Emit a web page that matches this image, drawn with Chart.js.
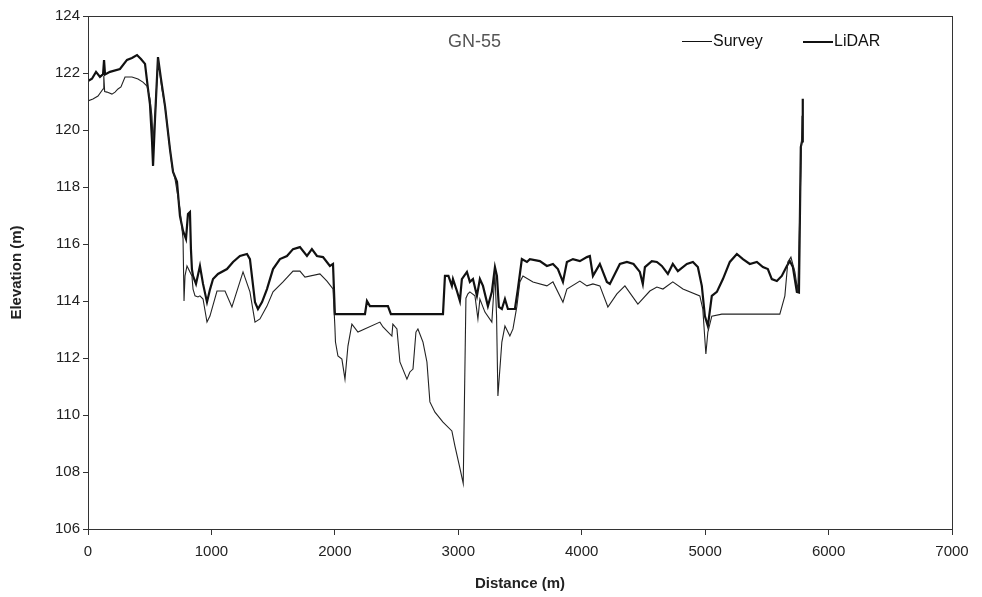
<!DOCTYPE html>
<html lang="en">

<head>
    <meta charset="UTF-8">
    <title>GN-55 Survey vs LiDAR</title>
    <script src="https://cdn.jsdelivr.net/npm/chart.js"></script>
    <style>
        body { margin: 0; background: #fff; }
        #box { position: relative; width: 982px; height: 597px; }
        #titulo { position: absolute; left: 448px; top: 31px; font: 18px "Liberation Sans", Arial, sans-serif; color: #555; }
        .leg { position: absolute; top: 32px; font: 16px "Liberation Sans", Arial, sans-serif; color: #111; }
        .leg span { display: inline-block; width: 30px; vertical-align: middle; margin-right: 1px; background: #111; }
    </style>
</head>

<body>
    <div id="box">
        <canvas id="grafico"></canvas>
        <div id="titulo">GN-55</div>
        <div class="leg" style="left:682px"><span style="height:1px"></span>Survey</div>
        <div class="leg" style="left:803px"><span style="height:2px"></span>LiDAR</div>
    </div>

<script>
    // eixos
    const xTicks = [0, 1000, 2000, 3000, 4000, 5000, 6000, 7000];
    const yTicks = [106, 108, 110, 112, 114, 116, 118, 120, 122, 124];

    // Survey (linha fina)
    const surveyDist = [0, 40, 81, 122, 128, 135, 154, 194, 219, 243, 267, 300, 356, 405, 445, 478, 502, 518, 527, 545,
        567, 599, 624, 648, 680, 705, 745, 770, 778, 786, 802, 842, 851, 867, 891, 907, 932, 964, 988, 1045,
        1110, 1166, 1256, 1312, 1353, 1393, 1450, 1499, 1580, 1661, 1717, 1758, 1879, 1936, 1985, 2000, 2005, 2025, 2057, 2082,
        2106, 2138, 2187, 2365, 2390, 2462, 2470, 2503, 2527, 2584, 2608, 2633, 2657, 2673, 2714, 2746, 2770, 2811, 2876, 2948,
        2973, 3010, 3040, 3062, 3078, 3094, 3135, 3159, 3175, 3216, 3272, 3297, 3310, 3321, 3353, 3378, 3418, 3443, 3475, 3499,
        3524, 3605, 3718, 3767, 3848, 3880, 3985, 4042, 4091, 4147, 4212, 4285, 4350, 4455, 4552, 4609, 4658, 4738, 4820, 4957,
        4981, 5006, 5022, 5054, 5135, 5605, 5646, 5670, 5695, 5727, 5751, 5775, 5785];
    const surveyElev = [121.02, 121.09, 121.19, 121.44, 121.9, 121.35, 121.33, 121.26, 121.33, 121.44, 121.51, 121.86, 121.86, 121.79, 121.68, 121.54, 121.09, 120.49, 119.6, 120.6,
        122.49, 121.44, 120.84, 119.93, 118.74, 118.28, 117.23, 116.18, 114.0, 114.88, 115.23, 114.88, 114.42, 114.18, 114.14, 114.18, 114.07, 113.26, 113.47, 114.35,
        114.35, 113.79, 115.02, 114.32, 113.26, 113.37, 113.82, 114.32, 114.67, 115.05, 115.05, 114.84, 114.95, 114.7, 114.42, 113.12, 112.56, 112.07, 111.96, 111.26,
        112.42, 113.19, 112.91, 113.26, 113.09, 112.77, 113.19, 113.02, 111.86, 111.26, 111.51, 111.61, 112.91, 113.02, 112.56, 111.86, 110.46, 110.1, 109.75, 109.44,
        108.91, 108.2, 107.6, 114.1, 114.25, 114.32, 114.18, 113.37, 114.07, 113.61, 113.26, 115.0, 113.5, 110.67, 112.56, 113.12, 112.77, 113.02, 113.82, 114.67,
        114.88, 114.67, 114.53, 114.67, 113.96, 114.42, 114.7, 114.53, 114.6, 114.53, 113.79, 114.25, 114.53, 113.89, 114.35, 114.49, 114.42, 114.67, 114.42, 114.18,
        113.72, 112.14, 112.91, 113.47, 113.54, 113.54, 114.18, 115.37, 115.54, 115.02, 114.32, 118.5, 120.5];

    // LiDAR (linha grossa)
    const lidarDist = [0, 32, 65, 97, 122, 130, 138, 178, 259, 316, 356, 397, 429, 462, 486, 502, 518, 527, 543, 567,
        591, 624, 664, 689, 721, 745, 770, 794, 810, 826, 834, 842, 851, 875, 907, 932, 964, 988, 1013, 1053,
        1126, 1175, 1231, 1288, 1312, 1353, 1377, 1410, 1450, 1499, 1555, 1612, 1661, 1717, 1774, 1814, 1855, 1904, 1960, 1985,
        2000, 2244, 2260, 2284, 2430, 2454, 2876, 2892, 2920, 2948, 2957, 2989, 3013, 3029, 3070, 3094, 3119, 3151, 3175, 3200,
        3240, 3272, 3297, 3313, 3329, 3353, 3378, 3402, 3459, 3483, 3515, 3556, 3580, 3661, 3718, 3767, 3807, 3848, 3880, 3929,
        3985, 4042, 4066, 4091, 4147, 4204, 4228, 4309, 4366, 4420, 4471, 4495, 4512, 4568, 4609, 4649, 4698, 4738, 4779, 4852,
        4901, 4941, 4973, 4998, 5022, 5054, 5095, 5144, 5200, 5257, 5306, 5362, 5419, 5468, 5508, 5540, 5581, 5621, 5662, 5686,
        5711, 5743, 5760, 5775, 5785, 5791];
    const lidarElev = [121.72, 121.8, 122.04, 121.86, 121.96, 122.45, 121.95, 122.04, 122.14, 122.46, 122.53, 122.63, 122.49, 122.32, 121.44, 120.91, 119.68, 118.74, 120.4, 122.56,
        121.8, 120.84, 119.33, 118.53, 118.18, 116.98, 116.46, 116.18, 117.05, 117.12, 115.82, 115.12, 114.88, 114.6, 115.23, 114.6, 113.96, 114.4, 114.77, 114.95,
        115.12, 115.37, 115.58, 115.65, 115.47, 113.96, 113.72, 113.96, 114.42, 115.12, 115.47, 115.58, 115.82, 115.89, 115.58, 115.82, 115.58, 115.54, 115.23, 115.3,
        113.54, 113.54, 114.0, 113.82, 113.82, 113.54, 113.54, 114.88, 114.88, 114.53, 114.77, 114.35, 114.0, 114.77, 115.02, 114.67, 114.77, 114.18, 114.77, 114.53,
        113.82, 114.32, 115.19, 114.88, 113.79, 113.72, 114.07, 113.72, 113.72, 114.42, 115.47, 115.37, 115.47, 115.4, 115.23, 115.3, 115.12, 114.67, 115.37, 115.47,
        115.4, 115.54, 115.58, 114.88, 115.3, 114.67, 114.6, 115.3, 115.37, 115.3, 115.02, 114.6, 115.19, 115.4, 115.37, 115.23, 114.95, 115.3, 115.05, 115.3,
        115.37, 115.19, 114.53, 113.47, 113.12, 114.18, 114.32, 114.77, 115.37, 115.65, 115.47, 115.3, 115.37, 115.19, 115.12, 114.77, 114.7, 114.88, 115.23, 115.4,
        115.19, 114.32, 114.3, 119.4, 119.6, 121.1];

    function juntar(xs, ys) {
        return xs.map(function (x, i) { return { x: x, y: ys[i] }; });
    }

    // moldura em volta da area do grafico
    const moldura = {
        id: 'moldura',
        afterDraw(chart) {
            const a = chart.chartArea;
            const ctx = chart.ctx;
            ctx.save();
            ctx.strokeStyle = '#333';
            ctx.lineWidth = 1;
            ctx.strokeRect(a.left + 0.5, a.top + 0.5, a.right - a.left, a.bottom - a.top);
            ctx.restore();
        }
    };

    const fonteTick = { family: '"Liberation Sans", Arial, sans-serif', size: 15 };

    new Chart(document.getElementById('grafico'), {
        type: 'scatter',
        data: {
            datasets: [{
                label: 'Survey',
                data: juntar(surveyDist, surveyElev),
                showLine: true,
                borderColor: '#222',
                borderWidth: 1.1,
                pointRadius: 0,
                tension: 0
            }, {
                label: 'LiDAR',
                data: juntar(lidarDist, lidarElev),
                showLine: true,
                borderColor: '#111',
                borderWidth: 2.2,
                pointRadius: 0,
                tension: 0
            }]
        },
        options: {
            responsive: true,
            maintainAspectRatio: false,
            animation: false,
            layout: { padding: { top: 16, right: 30, left: 0, bottom: 0 } },
            plugins: {
                legend: { display: false },
                tooltip: { enabled: false }
            },
            scales: {
                x: {
                    type: 'linear',
                    min: 0,
                    max: 7000,
                    afterBuildTicks: function (s) { s.ticks = xTicks.map(v => ({ value: v })); },
                    afterFit: function (s) { s.height = 68; },
                    grid: { drawOnChartArea: false, tickLength: 6, tickColor: '#333' },
                    border: { color: '#333' },
                    ticks: { color: '#222', font: fonteTick, padding: 8, maxRotation: 0,
                        callback: function (v) { return String(v); } },
                    title: {
                        display: true,
                        text: 'Distance (m)',
                        color: '#222',
                        font: { family: '"Liberation Sans", Arial, sans-serif', size: 15, weight: 'bold' },
                        padding: { top: 4 }
                    }
                },
                y: {
                    min: 106,
                    max: 124,
                    afterBuildTicks: function (s) { s.ticks = yTicks.map(v => ({ value: v })); },
                    afterFit: function (s) { s.width = 88; },
                    grid: { drawOnChartArea: false, tickLength: 5, tickColor: '#333' },
                    border: { color: '#333' },
                    ticks: { color: '#222', font: fonteTick, padding: 3,
                        callback: function (v) { return String(v); } },
                    title: {
                        display: true,
                        text: 'Elevation (m)',
                        color: '#222',
                        font: { family: '"Liberation Sans", Arial, sans-serif', size: 15, weight: 'bold' },
                        padding: { top: 8, bottom: 0 }
                    }
                }
            }
        },
        plugins: [moldura]
    });
</script>
</body>

</html>
